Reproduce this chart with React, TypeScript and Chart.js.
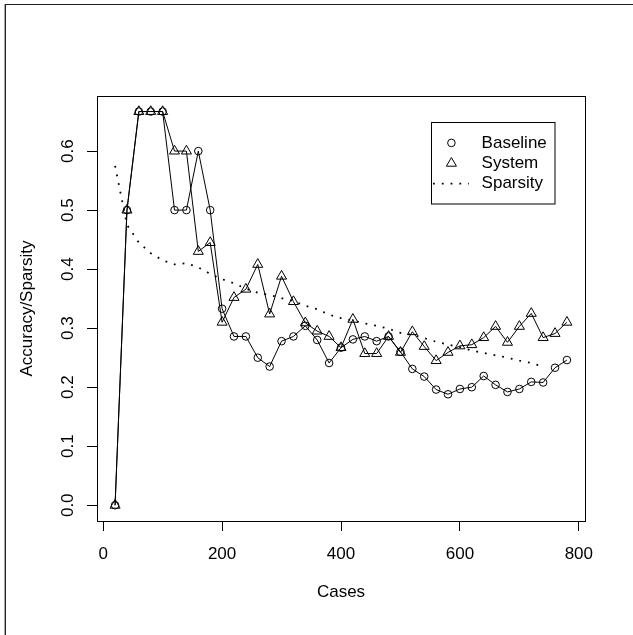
import React, { useEffect, useRef } from 'react';
import { Chart, registerables } from 'chart.js';

Chart.register(...registerables);

const cases = [20, 40, 60, 80, 100, 120, 140, 160, 180, 200, 220, 240, 260, 280, 300, 320, 340, 360, 380, 400, 420, 440, 460, 480, 500, 520, 540, 560, 580, 600, 620, 640, 660, 680, 700, 720, 740, 760, 780];

const baseline = [0, 0.5, 0.667, 0.667, 0.667, 0.5, 0.5, 0.6, 0.5, 0.333, 0.286, 0.286, 0.25, 0.235, 0.278, 0.286, 0.304, 0.28, 0.241, 0.267, 0.281, 0.286, 0.278, 0.286, 0.26, 0.231, 0.218, 0.196, 0.188, 0.197, 0.2, 0.219, 0.204, 0.192, 0.197, 0.209, 0.208, 0.233, 0.246];

const system = [0, 0.5, 0.667, 0.667, 0.667, 0.6, 0.6, 0.43, 0.445, 0.31, 0.352, 0.366, 0.408, 0.324, 0.388, 0.345, 0.309, 0.295, 0.286, 0.267, 0.315, 0.257, 0.257, 0.286, 0.259, 0.294, 0.269, 0.245, 0.259, 0.27, 0.272, 0.284, 0.303, 0.276, 0.303, 0.325, 0.284, 0.291, 0.31];

const sparsity = [0.575, 0.475, 0.445, 0.427, 0.415, 0.408, 0.41, 0.403, 0.392, 0.383, 0.376, 0.367, 0.36, 0.356, 0.351, 0.346, 0.338, 0.332, 0.323, 0.317, 0.313, 0.308, 0.304, 0.299, 0.292, 0.289, 0.283, 0.277, 0.272, 0.268, 0.262, 0.258, 0.254, 0.25, 0.245, 0.241, 0.235];

const xTicks = [0, 200, 400, 600, 800];
const yTicks = [0, 0.1, 0.2, 0.3, 0.4, 0.5, 0.6];
const legendLabels = ['Baseline', 'System', 'Sparsity'];
const xTitle = 'Cases';
const yTitle = 'Accuracy/Sparsity';

const FONT = '"Liberation Sans", Arial, Helvetica, sans-serif';
const FS = 17;
const DOT_DASH = [1.8, 7];

function drawTriangle(ctx: CanvasRenderingContext2D, x: number, y: number, r: number) {
  let rad = 0;
  ctx.beginPath();
  ctx.moveTo(x + Math.sin(rad) * r, y - Math.cos(rad) * r);
  rad += (2 * Math.PI) / 3;
  ctx.lineTo(x + Math.sin(rad) * r, y - Math.cos(rad) * r);
  rad += (2 * Math.PI) / 3;
  ctx.lineTo(x + Math.sin(rad) * r, y - Math.cos(rad) * r);
  ctx.closePath();
  ctx.stroke();
}

export default function App() {
  const ref = useRef<HTMLCanvasElement>(null);

  useEffect(() => {
    const canvas = ref.current;
    if (!canvas) return;

    const decor = {
      id: 'decor',
      afterDraw(chart: any) {
        const { ctx, chartArea: a } = chart;
        ctx.save();
        // outer frame (left/top edges visible)
        ctx.fillStyle = '#aaaaaa';
        ctx.fillRect(4, 4, 1, 631);
        ctx.fillStyle = '#222222';
        ctx.fillRect(5, 4, 1, 631);
        ctx.fillRect(5, 4, 628, 1);

        // plot box
        ctx.strokeStyle = '#000';
        ctx.lineWidth = 1;
        ctx.setLineDash([]);
        ctx.strokeRect(Math.round(a.left) + 0.5, Math.round(a.top) + 0.5, Math.round(a.right - a.left), Math.round(a.bottom - a.top));

        // legend
        const bx = 431.5, by = 122.5, bw = 123.5, bh = 81.5;
        ctx.strokeRect(bx, by, bw, bh);
        const rowH = 20.4;
        const symX = 451.4;
        const textX = 481.6;
        ctx.fillStyle = '#000';
        ctx.font = `${FS}px ${FONT}`;
        ctx.textAlign = 'left';
        ctx.textBaseline = 'middle';
        legendLabels.forEach((lab, i) => {
          const y = by + rowH * (i + 1);
          ctx.strokeStyle = '#000';
          ctx.lineWidth = 1;
          ctx.setLineDash([]);
          if (i === 0) {
            ctx.beginPath();
            ctx.arc(symX, y, 3.8, 0, Math.PI * 2);
            ctx.stroke();
          } else if (i === 1) {
            drawTriangle(ctx, symX, y, 5.8);
          } else {
            ctx.lineWidth = 1.8;
            ctx.setLineDash(DOT_DASH);
            ctx.beginPath();
            ctx.moveTo(433, y);
            ctx.lineTo(469, y);
            ctx.stroke();
            ctx.setLineDash([]);
          }
          ctx.fillText(lab, textX, y);
        });
        ctx.restore();
      },
    };

    const chart = new Chart(canvas, {
      type: 'line',
      data: {
        datasets: [
          {
            label: legendLabels[0],
            data: cases.map((x, i) => ({ x, y: baseline[i] })),
            borderColor: '#000',
            borderWidth: 1,
            pointStyle: 'circle',
            pointRadius: 3.8,
            pointBorderColor: '#000',
            pointBackgroundColor: 'rgba(0,0,0,0)',
            pointBorderWidth: 1,
            tension: 0,
            fill: false,
          },
          {
            label: legendLabels[1],
            data: cases.map((x, i) => ({ x, y: system[i] })),
            borderColor: '#000',
            borderWidth: 1,
            pointStyle: 'triangle',
            pointRadius: 5.8,
            pointBorderColor: '#000',
            pointBackgroundColor: 'rgba(0,0,0,0)',
            pointBorderWidth: 1,
            tension: 0,
            fill: false,
          },
          {
            label: legendLabels[2],
            data: sparsity.map((y, i) => ({ x: cases[i], y })),
            borderColor: '#000',
            borderWidth: 1.8,
            borderDash: DOT_DASH,
            borderCapStyle: 'butt',
            pointRadius: 0,
            tension: 0,
            fill: false,
          },
        ],
      },
      options: {
        responsive: false,
        animation: false,
        devicePixelRatio: 1,
        layout: { padding: { top: 96, right: 48, left: 0, bottom: 0 } },
        plugins: { legend: { display: false }, tooltip: { enabled: false } },
        scales: {
          x: {
            type: 'linear',
            min: -10.4,
            max: 810.4,
            afterBuildTicks: (s: any) => {
              s.ticks = xTicks.map((v) => ({ value: v }));
            },
            afterFit: (s: any) => {
              s.height = 114;
            },
            ticks: {
              color: '#000',
              font: { family: FONT, size: FS },
              padding: 13.5,
              maxRotation: 0,
              autoSkip: false,
              callback: (v: any) => String(v),
            },
            grid: { drawOnChartArea: false, drawTicks: true, tickLength: 10, tickColor: '#000', tickWidth: 1 },
            border: { display: true, color: '#000', width: 1 },
            title: { display: true, text: xTitle, color: '#000', font: { family: FONT, size: FS }, padding: { top: 0, bottom: 32 } },
          },
          y: {
            type: 'linear',
            min: -0.02667,
            max: 0.69333,
            afterBuildTicks: (s: any) => {
              s.ticks = yTicks.map((v) => ({ value: v }));
            },
            afterFit: (s: any) => {
              s.width = 97;
            },
            ticks: {
              color: '#000',
              font: { family: FONT, size: FS },
              padding: 7,
              minRotation: 90,
              maxRotation: 90,
              crossAlign: 'center',
              autoSkip: false,
              callback: (v: any) => Number(v).toFixed(1),
            },
            grid: { drawOnChartArea: false, drawTicks: true, tickLength: 10, tickColor: '#000', tickWidth: 1 },
            border: { display: true, color: '#000', width: 1 },
            title: { display: true, text: yTitle, color: '#000', font: { family: FONT, size: FS }, padding: { top: 17, bottom: 0 } },
          },
        },
      },
      plugins: [decor],
    } as any);

    return () => chart.destroy();
  }, []);

  return (
    <div style={{ position: 'absolute', left: 0, top: 0, width: 633, height: 635, background: '#fff' }}>
      <canvas ref={ref} width={633} height={635} style={{ display: 'block', width: 633, height: 635 }} />
    </div>
  );
}
